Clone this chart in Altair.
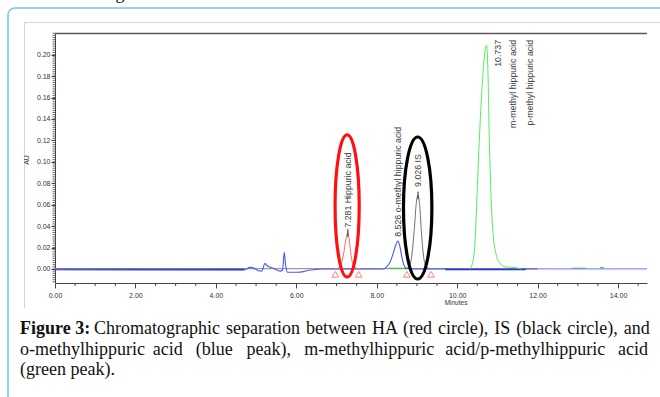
import altair as alt
import pandas as pd

# ---------------- data ----------------
# blue trace (baseline noise + o-methylhippuric acid peak)
blue_t = [0.0, 4.70, 4.85, 4.93, 5.06, 5.14, 5.22, 5.28, 5.43, 5.60, 5.66, 5.70, 5.73, 5.78,
          6.01, 6.18, 6.34, 6.51, 6.60, 8.15, 8.25, 8.35, 8.42, 8.48, 8.526, 8.57, 8.62, 8.67,
          8.72, 8.80, 12.0]
blue_v = [-0.0005, -0.001, 0.0015, 0.001, -0.0016, -0.002, 0.005, 0.003, 0.0007, -0.002, -0.001,
          0.0156, 0.005, -0.003, -0.003, -0.0025, -0.001, -0.0005, 0.0, 0.0, 0.002, 0.008, 0.016,
          0.023, 0.026, 0.022, 0.012, 0.004, 0.001, 0.0, 0.0]
lblue_t = [12.0, 14.72]
lblue_v = [0.0, 0.0]
navy_t = [0.0, 4.70, 9.70, 11.70]
navy_v = [-0.0005, -0.0005, -0.0005, -0.0005]
navy_seg = [1, 1, 2, 2]

# red trace (hippuric acid)
red_t = [6.95, 7.05, 7.12, 7.18, 7.23, 7.26, 7.281, 7.31, 7.35, 7.40, 7.46, 7.60]
red_v = [0.0, 0.001, 0.005, 0.015, 0.027, 0.032, 0.034, 0.029, 0.016, 0.005, 0.001, 0.0]

# grey trace (internal standard)
is_t = [8.70, 8.80, 8.87, 8.93, 8.98, 9.026, 9.07, 9.11, 9.16, 9.22, 9.32]
is_v = [0.0, 0.002, 0.012, 0.035, 0.060, 0.069, 0.058, 0.035, 0.013, 0.003, 0.0]

# green trace (m-/p-methylhippuric acid)
green_t = [10.30, 10.38, 10.45, 10.50, 10.55, 10.62, 10.68, 10.73, 10.76, 10.80, 10.85, 10.90,
           10.96, 11.05, 11.20, 11.50, 11.60]
green_v = [0.0, 0.005, 0.03, 0.075, 0.12, 0.17, 0.20, 0.209, 0.19, 0.12, 0.06, 0.03,
           0.015, 0.006, 0.002, 0.001, 0.0]
gseg_t = [8.30, 8.80, 12.85, 13.20, 13.55, 13.65]
gseg_v = [0.0006, 0.0006, 0.0006, 0.0006, 0.0012, 0.0012]
gseg_id = [1, 1, 2, 2, 3, 3]

# integration markers
tri_t = [6.97, 7.55, 8.75, 9.35]
tri_v = [-0.005, -0.005, -0.005, -0.005]

# peak apex markers
apex_t = [7.281, 9.026]
apex_v = [0.034, 0.069]

# peak labels
lab_text = ["7.281  Hippuric acid", "8.526   o-methyl hippuric acid", "9.026  IS",
            "10.737", "m-methyl hippuric acid", "p-methyl hippuric acid"]
lab_t = [7.281, 8.526, 9.026, 11.02, 11.38, 11.82]
lab_v = [0.0385, 0.030, 0.0766, 0.2137, 0.2137, 0.2137]
lab_align = ["left", "left", "left", "right", "right", "right"]

# circled peaks
ell_name = ["HA", "IS"]
ell_t = [7.264, 9.018]
ell_v = [0.0588, 0.0569]
ell_color = ["#ff1010", "#000000"]

x_ticks = [0, 2, 4, 6, 8, 10, 12, 14]
y_ticks = [0.0, 0.02, 0.04, 0.06, 0.08, 0.10, 0.12, 0.14, 0.16, 0.18, 0.20]
x_minor = [i / 2 for i in range(0, 30) if i % 4 != 0]
y_minor = [round(-0.012 + i * 0.002, 3) for i in range(0, 117)]

caption1_bold = "Figure 3:"
caption1_words = ["Chromatographic", "separation", "between", "HA", "(red", "circle),", "IS",
                  "(black", "circle),", "and"]
caption2_words = ["o-methylhippuric", "acid", "(blue", "peak),", "m-methylhippuric",
                  "acid/p-methylhippuric", "acid"]
caption3 = "(green peak)."

# ---------------- chart ----------------
X_DOM = [0, 14.72]
Y_DOM = [-0.0131, 0.2202]
SANS = "Liberation Sans"
SERIF = "Liberation Serif"
xs = alt.Scale(domain=X_DOM, nice=False, zero=False)
ys = alt.Scale(domain=Y_DOM, nice=False, zero=False)
AXX = alt.Axis(values=x_ticks, format=".2f", tickSize=5, labelFontSize=7, labelFont=SANS,
               labelColor="#333", domainColor="#444", tickColor="#444", grid=False,
               labelPadding=3, labelFlush=False, labelOverlap=False, title=None)
AXY = alt.Axis(values=y_ticks, format=".2f", tickSize=4, labelFontSize=7, labelFont=SANS,
               labelColor="#333", domainColor="#444", tickColor="#444", grid=False,
               labelPadding=1, labelFlush=False, labelOverlap=False, title=None)
X = lambda f: alt.X(f, type="quantitative", scale=xs, axis=AXX)
Y = lambda f: alt.Y(f, type="quantitative", scale=ys, axis=AXY)

one = pd.DataFrame({"a": [0]})

def df(**k):
    return pd.DataFrame(k)

# frames
blue_frame = alt.Chart(one).mark_rect(fillOpacity=0, stroke="#74c7ea", strokeWidth=1.6,
                                      cornerRadius=7).encode(
    x=alt.value(-47), x2=alt.value(660), y=alt.value(-25), y2=alt.value(420))
grey_left = alt.Chart(one).mark_rule(color="#d4d4d4", strokeWidth=1).encode(
    x=alt.value(-30.5), y=alt.value(-10.5), y2=alt.value(275))
grey_top = alt.Chart(one).mark_rule(color="#d4d4d4", strokeWidth=1).encode(
    x=alt.value(-30.5), x2=alt.value(610), y=alt.value(-10.5))
top_border = alt.Chart(one).mark_rule(color="#5a5a5a", strokeWidth=1.4).encode(
    x=alt.value(0), x2=alt.value(592), y=alt.value(0.5))

xminor = alt.Chart(df(t=x_minor)).mark_rule(color="#444", strokeWidth=1).encode(
    x=X("t"), y=alt.value(250), y2=alt.value(253))
yminor = alt.Chart(df(v=y_minor)).mark_rule(color="#444", strokeWidth=0.8).encode(
    y=Y("v"), x=alt.value(-2.5), x2=alt.value(0))

zero_line = alt.Chart(df(t=[0.0, 12.0], v=[0.0003, 0.0003])).mark_line(
    color="#9a9a9a", strokeWidth=1.2).encode(x=X("t"), y=Y("v"))

green_segs = alt.Chart(df(t=gseg_t, v=gseg_v, s=gseg_id)).mark_line(
    color="#3ccc3c", strokeWidth=1.2).encode(x=X("t"), y=Y("v"), detail="s:N")
blue_line = alt.Chart(df(t=blue_t, v=blue_v)).mark_line(
    color="#4a55ff", strokeWidth=1.1, interpolate="monotone").encode(x=X("t"), y=Y("v"))
lblue_line = alt.Chart(df(t=lblue_t, v=lblue_v)).mark_line(
    color="#8a8aff", strokeWidth=1.2).encode(x=X("t"), y=Y("v"))
navy_line = alt.Chart(df(t=navy_t, v=navy_v, s=navy_seg)).mark_line(
    color="#1c1c90", strokeWidth=1.3).encode(x=X("t"), y=Y("v"), detail="s:N")
red_line = alt.Chart(df(t=red_t, v=red_v)).mark_line(
    color="#ff6a6a", strokeWidth=1, interpolate="monotone").encode(x=X("t"), y=Y("v"))
is_line = alt.Chart(df(t=is_t, v=is_v)).mark_line(
    color="#6e6e6e", strokeWidth=1, interpolate="monotone").encode(x=X("t"), y=Y("v"))
green_line = alt.Chart(df(t=green_t, v=green_v)).mark_line(
    color="#55ee55", strokeWidth=1, interpolate="monotone").encode(x=X("t"), y=Y("v"))

apex = alt.Chart(df(t=apex_t, v=apex_v)).transform_calculate(
    lo="datum.v - 0.004", hi="datum.v + 0.003").mark_rule(color="#444", strokeWidth=1.2).encode(
    x=X("t"), y=Y("lo"), y2="hi:Q")

tris = alt.Chart(df(t=tri_t, v=tri_v)).mark_point(
    shape="triangle-up", filled=False, color="#ff5050", size=45, strokeWidth=1).encode(
    x=X("t"), y=Y("v"))

labels = alt.layer(*[
    alt.Chart(df(txt=[lab_text[i]], t=[lab_t[i]], v=[lab_v[i]])).mark_text(
        angle=270, align=lab_align[i], baseline="middle", font=SANS, fontSize=8.8,
        color="#3a3a3a").encode(x=X("t"), y=Y("v"), text="txt:N")
    for i in range(len(lab_text))])

K = 0.5523
def ell_path(a):
    return (f"M0,-1 C{K*a:.4f},-1 {a},{-K} {a},0 C{a},{K} {K*a:.4f},1 0,1 "
            f"C{-K*a:.4f},1 {-a},{K} {-a},0 C{-a},{-K} {-K*a:.4f},-1 0,-1 Z")

ellipses = alt.layer(
    alt.Chart(df(n=[ell_name[0]], t=[ell_t[0]], v=[ell_v[0]])).mark_point(
        shape=ell_path(0.17), filled=False, size=20164, strokeWidth=3.2, color=ell_color[0],
        opacity=1).encode(x=X("t"), y=Y("v")),
    alt.Chart(df(n=[ell_name[1]], t=[ell_t[1]], v=[ell_v[1]])).mark_point(
        shape=ell_path(0.20), filled=False, size=20164, strokeWidth=3.2, color=ell_color[1],
        opacity=1).encode(x=X("t"), y=Y("v")),
)

au = alt.Chart(one).mark_text(text="AU", angle=270, font=SANS, fontSize=7, color="#333",
                              align="center", baseline="middle").encode(
    x=alt.value(-28), y=alt.value(127))
minutes = alt.Chart(one).mark_text(text="Minutes", font=SANS, fontSize=6.5, color="#333",
                                   align="center", baseline="middle").encode(
    x=alt.value(401), y=alt.value(270))

# ---- caption (justified lines) ----
FS = 18
def txt(s, x, y, align="left", weight="normal"):
    return alt.Chart(one).mark_text(text=s, font=SERIF, fontSize=FS, fontWeight=weight,
                                    color="#111", align=align, baseline="alphabetic").encode(
        x=alt.value(x), y=alt.value(y))

LEFT, RIGHT = -35, 593
cap_b = txt(caption1_bold, LEFT, 301, weight="bold")
cap1 = txt(" \u200a".join(caption1_words), 39, 301)

# line 2 justified: approximate word widths (px at 18px Liberation Serif)
w2 = [120, 30, 38, 45, 128, 160, 30]
gap2 = (RIGHT - LEFT - sum(w2)) / (len(w2) - 1)
pos2 = []
acc = LEFT
for w in w2:
    pos2.append(acc)
    acc += w + gap2
cap2 = alt.layer(*[
    txt(w, RIGHT if i == len(caption2_words) - 1 else pos2[i], 322,
        align=("right" if i == len(caption2_words) - 1 else "left"))
    for i, w in enumerate(caption2_words)])
cap3 = txt(caption3, LEFT, 342)
g_frag = alt.Chart(one).mark_text(text="g", font=SERIF, fontSize=FS, color="#111",
                                  align="center", baseline="alphabetic").encode(
    x=alt.value(65), y=alt.value(-34))

chart = alt.layer(
    blue_frame, grey_left, grey_top, xminor, yminor, top_border,
    zero_line, green_segs, navy_line, blue_line, lblue_line, red_line, is_line, green_line,
    apex, tris, labels, ellipses, au, minutes, cap_b, cap1, cap2, cap3, g_frag
).properties(
    width=592, height=250,
    padding={"left": 55, "top": 33, "right": 13, "bottom": 114},
    autosize=alt.AutoSizeParams(type="none"),
    background="white",
).configure_view(strokeWidth=0)

chart.save("out.html", embed_options={"renderer": "svg", "actions": False})
